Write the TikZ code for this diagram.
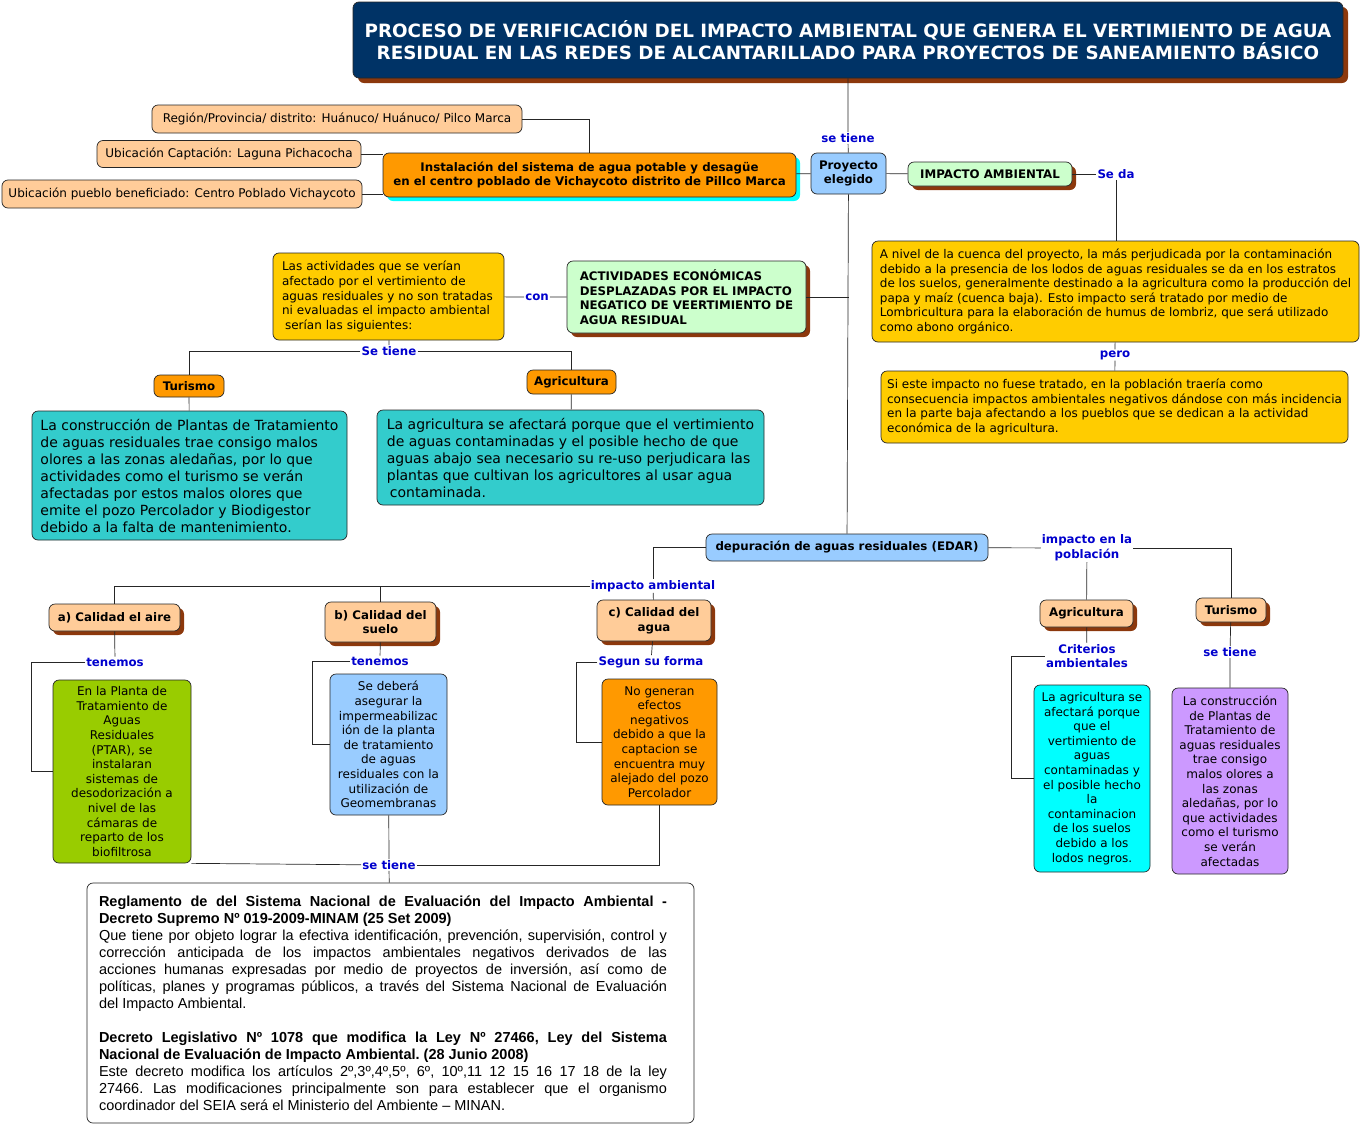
\documentclass[tikz,border=0pt]{standalone}
\usepackage{fontspec}
\setmainfont{DejaVu Sans}
\newfontfamily\arialfont{Liberation Sans}
\usepackage{tikz}
\usetikzlibrary{shadows}
\definecolor{navy}{RGB}{0,51,102}
\definecolor{brn}{RGB}{140,56,12}
\definecolor{lblue}{RGB}{0,0,205}
\definecolor{orng}{RGB}{255,153,0}
\definecolor{peach}{RGB}{255,204,153}
\definecolor{gold}{RGB}{255,204,0}
\definecolor{sky}{RGB}{153,204,255}
\definecolor{mint}{RGB}{204,255,204}
\definecolor{tealbox}{RGB}{51,204,204}
\definecolor{grn}{RGB}{153,204,0}
\definecolor{aqua}{RGB}{0,255,255}
\definecolor{lilac}{RGB}{204,153,255}

\begin{document}
\begin{tikzpicture}[x=1pt, y=-1pt,
  box/.style={draw=black!85, line width=0.7pt, rounded corners=6pt, align=center, inner sep=3pt, font=\fontsize{12}{14.6}\selectfont},
  hd/.style={box, font=\bfseries\fontsize{11.8}{14.6}\selectfont},
  sz/.style 2 args={minimum width=#1pt, minimum height=#2pt},
  sh/.style={general shadow={fill=brn, shadow xshift=4pt, shadow yshift=-4pt}},
  lbl/.style={inner sep=1pt, text=lblue, align=center, font=\bfseries\fontsize{11.8}{14.6}\selectfont},
  ln/.style={line width=0.7pt, black!85}]
\useasboundingbox (0,0) rectangle (1361,1125);
\node[hd, sz={990}{76}, fill=navy, text=white, font=\bfseries\fontsize{18.3}{22}\selectfont,
  general shadow={fill=brn, shadow xshift=5pt, shadow yshift=-5pt}] (title) at (848,40)
  {PROCESO DE VERIFICACIÓN DEL IMPACTO AMBIENTAL QUE GENERA EL VERTIMIENTO DE AGUA\\RESIDUAL EN LAS REDES DE ALCANTARILLADO PARA PROYECTOS DE SANEAMIENTO BÁSICO};
\node[hd, sz={75}{41}, fill=sky] (proy) at (848.5,173.5) {Proyecto\\elegido};
\node[hd, sz={413}{44}, fill=orng, general shadow={fill=aqua, shadow xshift=4pt, shadow yshift=-4pt}] (inst) at (589.5,175)
  {Instalación del sistema de agua potable y desagüe\\en el centro poblado de Vichaycoto distrito de Pillco Marca};
\node[box, sz={370}{28}, fill=peach] (reg) at (337,119) {Región/Provincia/ distrito: Huánuco/ Huánuco/ Pilco Marca};
\node[box, sz={264}{27}, fill=peach] (capt) at (229,154) {Ubicación Captación: Laguna Pichacocha};
\node[box, sz={360}{28}, fill=peach] (pueb) at (182,194) {Ubicación pueblo beneficiado: Centro Poblado Vichaycoto};
\node[hd, sh, sz={164}{24}, fill=mint] (imp) at (990,174) {IMPACTO AMBIENTAL};
\node[box, sz={487}{101}, fill=gold, align=left] (cuenca) at (1115.5,291.5)
  {A nivel de la cuenca del proyecto, la más perjudicada por la contaminación\\debido a la presencia de los lodos de aguas residuales se da en los estratos\\de los suelos, generalmente destinado a la agricultura como la producción del\\papa y maíz (cuenca baja). Esto impacto será tratado por medio de\\Lombricultura para la elaboración de humus de lombriz, que será utilizado\\como abono orgánico.};
\node[box, sz={467}{72}, fill=gold, align=left] (trat) at (1114.5,407)
  {Si este impacto no fuese tratado, en la población traería como\\consecuencia impactos ambientales negativos dándose con más incidencia\\en la parte baja afectando a los pueblos que se dedican a la actividad\\económica de la agricultura.};
\node[hd, sh, sz={239}{72}, fill=mint, align=left] (act) at (686.5,297)
  {ACTIVIDADES ECONÓMICAS\\DESPLAZADAS POR EL IMPACTO\\NEGATICO DE VEERTIMIENTO DE\\AGUA RESIDUAL};
\node[box, sz={231}{87}, fill=gold, align=left, text width=213pt] (lasact) at (388.5,296.5)
  {Las actividades que se verían\\afectado por el vertimiento de\\aguas residuales y no son tratadas\\ni evaluadas el impacto ambiental\\\hspace*{3pt}serían las siguientes:};
\node[hd, sz={70}{22}, fill=orng] (tur1) at (189,386) {Turismo};
\node[hd, sz={89}{24}, fill=orng] (agr1) at (571.5,382) {Agricultura};
\node[box, sz={315}{129}, fill=tealbox, align=left, font=\fontsize{14}{17}\selectfont] (olores) at (189.5,475.5)
  {La construcción de Plantas de Tratamiento\\de aguas residuales trae consigo malos\\olores a las zonas aledañas, por lo que\\actividades como el turismo se verán\\afectadas por estos malos olores que\\emite el pozo Percolador y Biodigestor\\debido a la falta de mantenimiento.};
\node[box, sz={387}{95}, fill=tealbox, align=left, font=\fontsize{14}{17}\selectfont] (riego) at (570.5,457.5)
  {La agricultura se afectará porque que el vertimiento\\de aguas contaminadas y el posible hecho de que\\aguas abajo sea necesario su re-uso perjudicara las\\plantas que cultivan los agricultores al usar agua\\\hspace*{3pt}contaminada.};
\node[hd, sz={282}{27}, fill=sky] (edar) at (847,547.5) {depuración de aguas residuales (EDAR)};
\node[hd, sh, sz={131}{27}, fill=peach] (aire) at (114.5,617.5) {a) Calidad el aire};
\node[hd, sh, sz={111}{40}, fill=peach] (suelo) at (380.5,622) {b) Calidad del\\suelo};
\node[hd, sh, sz={114}{41}, fill=peach] (agua) at (654,620.5) {c) Calidad del\\agua};
\node[box, sz={138}{183}, fill=grn] (ptar) at (122,771.5)
  {En la Planta de\\Tratamiento de\\Aguas\\Residuales\\(PTAR), se\\instalaran\\sistemas de\\desodorización a\\nivel de las\\cámaras de\\reparto de los\\biofiltrosa};
\node[box, sz={117}{141}, fill=sky] (geo) at (388.5,744.5)
  {Se deberá\\asegurar la\\impermeabilizac\\ión de la planta\\de tratamiento\\de aguas\\residuales con la\\utilización de\\Geomembranas};
\node[box, sz={115}{126}, fill=orng] (capta) at (659.5,742)
  {No generan\\efectos\\negativos\\debido a que la\\captacion se\\encuentra muy\\alejado del pozo\\Percolador};
\node[box, sz={607}{240}, fill=white, text width=583pt, align=justify, font=\arialfont\fontsize{14.5}{17}\selectfont] (norma) at (390.5,1003)
  {\rightskip=15pt\frenchspacing
  \textbf{Reglamento de del Sistema Nacional de Evaluación del Impacto Ambiental -}\linebreak
  \textbf{Decreto Supremo Nº 019-2009-MINAM (25 Set 2009)}\newline
  Que tiene por objeto lograr la efectiva identificación, prevención, supervisión, control y\linebreak
  corrección anticipada de los impactos ambientales negativos derivados de las\linebreak
  acciones humanas expresadas por medio de proyectos de inversión, así como de\linebreak
  políticas, planes y programas públicos, a través del Sistema Nacional de Evaluación\linebreak
  del Impacto Ambiental.\par\vspace{17pt}
  \textbf{Decreto Legislativo Nº 1078 que modifica la Ley Nº 27466, Ley del Sistema}\linebreak
  \textbf{Nacional de Evaluación de Impacto Ambiental. (28 Junio 2008)}\newline
  Este decreto modifica los artículos 2º,3º,4º,5º, 6º, 10º,11 12 15 16 17 18 de la ley\linebreak
  27466. Las modificaciones principalmente son para establecer que el organismo\linebreak
  coordinador del SEIA será el Ministerio del Ambiente – MINAN.\par};
\node[hd, sh, sz={93}{27}, fill=peach] (agr2) at (1086.5,613.5) {Agricultura};
\node[hd, sh, sz={70}{24}, fill=peach] (tur2) at (1231,610) {Turismo};
\node[box, sz={116}{187}, fill=aqua] (lodos) at (1092,778.5)
  {La agricultura se\\afectará porque\\que el\\vertimiento de\\aguas\\contaminadas y\\el posible hecho\\la\\contaminacion\\de los suelos\\debido a los\\lodos negros.};
\node[box, sz={116}{186}, fill=lilac] (malos) at (1230,781)
  {La construcción\\de Plantas de\\Tratamiento de\\aguas residuales\\trae consigo\\malos olores a\\las zonas\\aledañas, por lo\\que actividades\\como el turismo\\se verán\\afectadas};
\node[lbl] (st1) at (848,138) {se tiene};
\node[lbl] (con) at (537,297) {con};
\node[lbl] (seda) at (1116,174) {Se da};
\node[lbl] (pero) at (1115,355) {pero};
\node[lbl] (st2) at (389,351) {Se tiene};
\node[lbl] (impamb) at (653,586) {impacto ambiental};
\node[lbl] (imppob) at (1087,548) {impacto en la\\población};
\node[lbl] (ten1) at (115,662) {tenemos};
\node[lbl] (ten2) at (380,661) {tenemos};
\node[lbl] (segun) at (651,662) {Segun su forma};
\node[lbl] (st3) at (389,865) {se tiene};
\node[lbl] (crit) at (1087,656) {Criterios\\ambientales};
\node[lbl] (st4) at (1230,652) {se tiene};
\draw[ln] (title) -- (st1) -- (proy);
\draw[ln] (proy) -- (inst);
\draw[ln] (proy) -- (imp);
\draw[ln] (proy) -- (edar);
\draw[ln] (act.east) -- (act.east -| proy.south);
\draw[ln] (reg) -| (inst);
\draw[ln] (capt.east) -- (capt.east -| inst.west);
\draw[ln] (pueb.east) -- (pueb.east -| inst.west);
\draw[ln] (imp) -- (seda);
\draw[ln] (seda) -- (seda |- cuenca.north);
\draw[ln] (cuenca) -- (pero) -- (trat);
\draw[ln] (lasact) -- (con) -- (act);
\draw[ln] (lasact) -- (st2);
\draw[ln] (st2) -| (tur1);
\draw[ln] (st2) -| (agr1);
\draw[ln] (tur1) -- (olores);
\draw[ln] (agr1) -- (riego);
\draw[ln] (edar) -| (impamb);
\draw[ln] (impamb) -- (agua);
\draw[ln] (impamb) -| (aire);
\draw[ln] (impamb) -| (suelo);
\draw[ln] (aire) -- (ten1);
\draw[ln] (ten1.west) -- ++(-54,0) |- (ptar);
\draw[ln] (suelo) -- (ten2);
\draw[ln] (ten2.west) -- ++(-38,0) |- (geo);
\draw[ln] (agua) -- (segun);
\draw[ln] (segun.west) -- ++(-21,0) |- (capta);
\draw[ln] (ptar.south east) -- (st3);
\draw[ln] (st3) -| (capta);
\draw[ln] (geo) -- (st3) -- (norma);
\draw[ln] (edar) -- (imppob);
\draw[ln] (imppob) -- (agr2);
\draw[ln] (imppob) -| (tur2);
\draw[ln] (agr2) -- (crit);
\draw[ln] (crit.west) -- ++(-34,0) |- (lodos);
\draw[ln] (tur2) -- (st4) -- (malos);
\end{tikzpicture}
\end{document}
